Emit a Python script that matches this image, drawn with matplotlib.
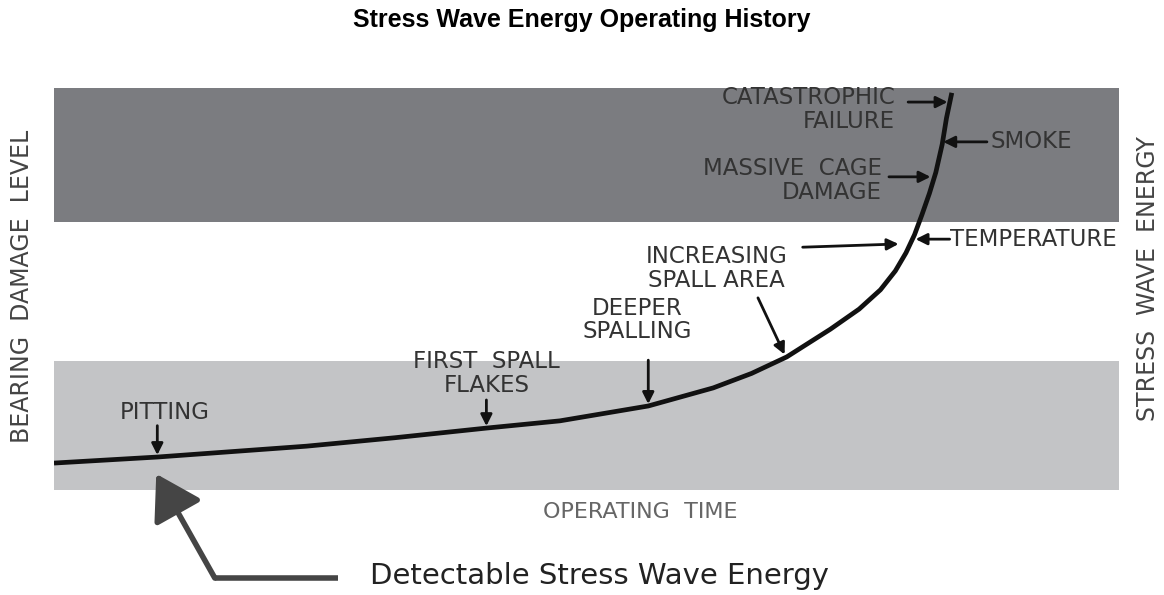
import matplotlib.pyplot as plt

# Damage progression curve (operating time vs. damage level, both 0-100)
time = [0, 9.7, 23.7, 32.0, 40.6, 47.5, 55.8, 61.9, 65.5, 68.8, 72.9, 75.6, 77.6, 79.0,
        80.0, 80.8, 81.5, 82.2, 82.8, 83.4, 83.8, 84.3]
level = [6.7, 8.2, 10.9, 13.0, 15.4, 17.2, 20.9, 25.4, 29.0, 33.1, 40.0, 45.0, 49.8, 54.5,
         59.0, 63.5, 68.5, 73.8, 79.0, 86.0, 92.5, 98.8]

# Zones: detectable (light), high energy (dark)
low_zone = (0, 32.1)
high_zone = (66.7, 100)

txt_color = '#333333'
font = 'DejaVu Sans'

fig = plt.figure(figsize=(11.64, 5.95), dpi=100)
ax = fig.add_axes([54 / 1164, 105 / 595, 1065 / 1164, 402 / 595])
ax.set_xlim(0, 100)
ax.set_ylim(0, 100)
ax.axis('off')

ax.axhspan(*low_zone, color='#c3c4c6', lw=0)
ax.axhspan(*high_zone, color='#7b7c80', lw=0)
ax.plot(time, level, color='#111111', lw=3.4, solid_capstyle='butt', solid_joinstyle='round', zorder=3)

arrow = dict(arrowstyle='-|>', color='#111111', lw=2, mutation_scale=17, shrinkA=0, shrinkB=0)
kw = dict(fontsize=16.5, color=txt_color, family=font, linespacing=1.05)

# PITTING
ax.text(10.4, 19.4, 'PITTING', ha='center', va='center', **kw)
ax.annotate('', xy=(9.7, 8.7), xytext=(9.7, 16.0), arrowprops=arrow)
# FIRST SPALL FLAKES
ax.text(40.6, 28.9, 'FIRST  SPALL\nFLAKES', ha='center', va='center', **kw)
ax.annotate('', xy=(40.6, 15.9), xytext=(40.6, 22.4), arrowprops=arrow)
# DEEPER SPALLING
ax.text(54.8, 42.3, 'DEEPER\nSPALLING', ha='center', va='center', **kw)
ax.annotate('', xy=(55.8, 21.4), xytext=(55.8, 32.3), arrowprops=arrow)
# INCREASING SPALL AREA
ax.text(62.2, 55.0, 'INCREASING\nSPALL AREA', ha='center', va='center', **kw)
ax.annotate('', xy=(68.6, 33.7), xytext=(66.1, 47.8), arrowprops=arrow)
ax.annotate('', xy=(79.3, 61.2), xytext=(70.3, 60.4), arrowprops=arrow)
# TEMPERATURE
ax.text(84.1, 62.4, 'TEMPERATURE', ha='left', va='center', **kw)
ax.annotate('', xy=(80.9, 62.4), xytext=(84.1, 62.4), arrowprops=arrow)
# MASSIVE CAGE DAMAGE
ax.text(77.7, 76.9, 'MASSIVE  CAGE\nDAMAGE', ha='right', va='center', **kw)
ax.annotate('', xy=(82.3, 77.9), xytext=(78.4, 77.9), arrowprops=arrow)
# CATASTROPHIC FAILURE
ax.text(79.0, 94.6, 'CATASTROPHIC\nFAILURE', ha='right', va='center', **kw)
ax.annotate('', xy=(83.9, 96.5), xytext=(80.2, 96.5), arrowprops=arrow)
# SMOKE
ax.text(87.9, 86.6, 'SMOKE', ha='left', va='center', **kw)
ax.annotate('', xy=(83.5, 86.6), xytext=(87.6, 86.6), arrowprops=arrow)

# Detectable stress wave energy pointer
big = dict(arrowstyle='-|>,head_length=0.9,head_width=0.55', color='#454545', lw=4,
           mutation_scale=30, shrinkA=0, shrinkB=0)
ax.plot([26.7, 15.1], [-21.9, -21.9], color='#454545', lw=4, clip_on=False, solid_capstyle='butt')
ax.annotate('', xy=(9.6, 4.0), xytext=(15.1, -21.9), arrowprops=big, annotation_clip=False)
ax.text(29.7, -21.4, 'Detectable Stress Wave Energy', ha='left', va='center', fontsize=21,
        color='#222222', family='DejaVu Sans', clip_on=False)

fig.text(582 / 1164, 1 - 27 / 595, 'Stress Wave Energy Operating History', ha='center', va='baseline',
         fontsize=18, fontweight='bold', family='Liberation Sans')
fig.text(22 / 1164, 1 - 286 / 595, 'BEARING  DAMAGE  LEVEL', rotation=90, ha='center', va='center',
         fontsize=17, color='#444444', family=font)
fig.text(1148 / 1164, 1 - 279 / 595, 'STRESS  WAVE  ENERGY', rotation=90, ha='center', va='center',
         fontsize=17, color='#444444', family=font)
fig.text(640 / 1164, 1 - 512 / 595, 'OPERATING  TIME', ha='center', va='center',
         fontsize=16, color='#666666', family=font)

fig.savefig('out.png', dpi=100)
